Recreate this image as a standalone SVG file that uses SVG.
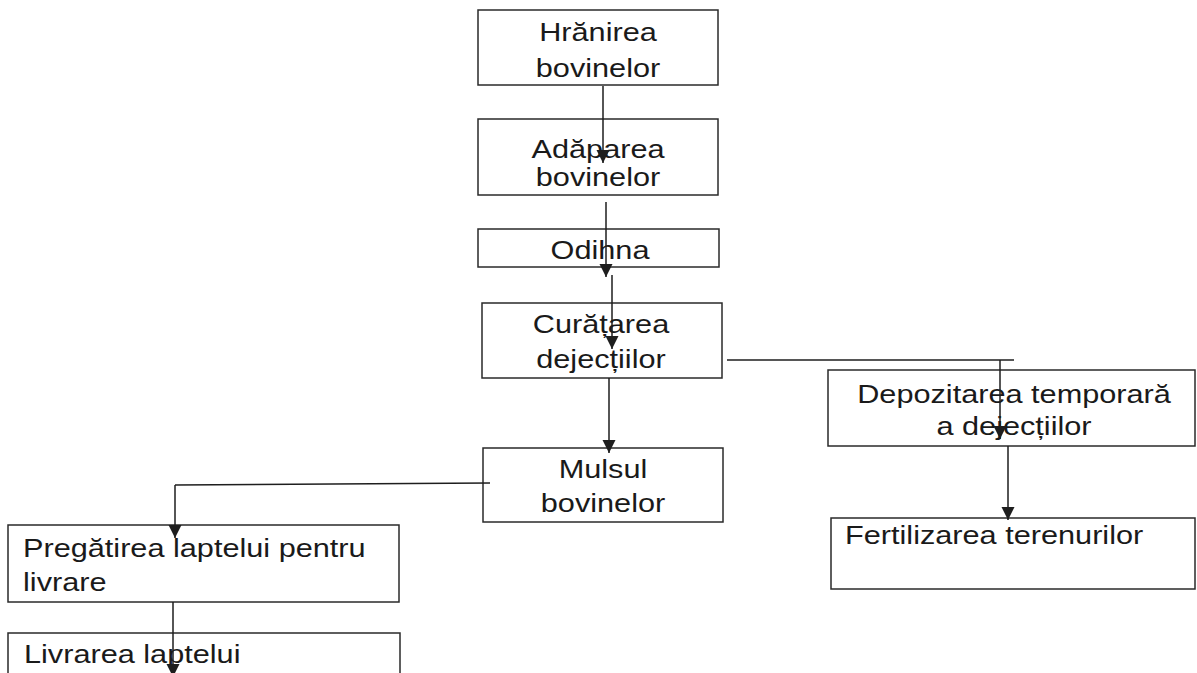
<svg xmlns="http://www.w3.org/2000/svg" width="1197" height="673" viewBox="0 0 1197 673">
<defs>
<marker id="ah" markerUnits="userSpaceOnUse" markerWidth="14" markerHeight="14" refX="13" refY="7" orient="auto">
<path d="M0,0.5 L13,7 L0,13.5 z" fill="#1e1e1e"/>
</marker>
<style>
.box{fill:none;stroke:#2a2a2a;stroke-width:1.5}
.t{font-family:"Liberation Sans",Arial,sans-serif;font-size:26px;fill:#1a1a1a}
.c{text-anchor:middle}
.ln{fill:none;stroke:#1e1e1e;stroke-width:1.5}
.ar{fill:none;stroke:#1e1e1e;stroke-width:1.5;marker-end:url(#ah)}
</style>
</defs>
<rect width="1197" height="673" fill="#ffffff"/>
<g id="n1">
<rect class="box" x="478" y="10" width="240" height="75"/>
<g transform="translate(598,0) scale(1.18,1)"><text class="t c" x="0" y="41">Hrănirea</text><text class="t c" x="0" y="77">bovinelor</text></g>
</g>
<g id="n2">
<rect class="box" x="478" y="119" width="240" height="76"/>
<g transform="translate(598,0) scale(1.18,1)"><text class="t c" x="0" y="158">Adăparea</text><text class="t c" x="0" y="186">bovinelor</text></g>
</g>
<g id="n3">
<rect class="box" x="478" y="229" width="241" height="38"/>
<g transform="translate(600,0) scale(1.18,1)"><text class="t c" x="0" y="259">Odihna</text></g>
</g>
<g id="n4">
<rect class="box" x="482" y="303" width="240" height="75"/>
<g transform="translate(601,0) scale(1.18,1)"><text class="t c" x="0" y="333">Curățarea</text><text class="t c" x="0" y="368">dejecțiilor</text></g>
</g>
<g id="n5">
<rect class="box" x="483" y="448" width="240" height="74"/>
<g transform="translate(603,0) scale(1.18,1)"><text class="t c" x="0" y="478">Mulsul</text><text class="t c" x="0" y="512">bovinelor</text></g>
</g>
<g id="n6">
<rect class="box" x="828" y="370" width="367" height="76"/>
<g transform="translate(1014,0) scale(1.18,1)"><text class="t c" x="0" y="403">Depozitarea temporară</text><text class="t c" x="0" y="435">a dejecțiilor</text></g>
</g>
<g id="n7">
<rect class="box" x="831" y="518" width="364" height="71"/>
<g transform="translate(845,0) scale(1.18,1)"><text class="t" x="0" y="544">Fertilizarea terenurilor</text></g>
</g>
<g id="n8">
<rect class="box" x="8" y="525" width="391" height="77"/>
<g transform="translate(23,0) scale(1.18,1)"><text class="t" x="0" y="557">Pregătirea laptelui pentru</text><text class="t" x="0" y="591">livrare</text></g>
</g>
<g id="n9">
<rect class="box" x="8" y="633" width="392" height="60"/>
<g transform="translate(24,0) scale(1.18,1)"><text class="t" x="0" y="663">Livrarea laptelui</text></g>
</g>
<g id="connectors">
<line class="ar" x1="603" y1="86" x2="603" y2="163"/>
<line class="ar" x1="606" y1="202" x2="606" y2="277"/>
<line class="ar" x1="612" y1="275" x2="612" y2="349"/>
<line class="ar" x1="609" y1="378" x2="609" y2="453"/>
<line class="ln" x1="727" y1="360" x2="1014" y2="360"/>
<line class="ar" x1="1000" y1="360" x2="1000" y2="439"/>
<line class="ar" x1="1008" y1="446" x2="1008" y2="520"/>
<line class="ln" x1="490" y1="483" x2="175" y2="485"/>
<line class="ar" x1="175" y1="485" x2="175" y2="538"/>
<line class="ar" x1="173" y1="602" x2="173" y2="677"/>
</g>
</svg>
